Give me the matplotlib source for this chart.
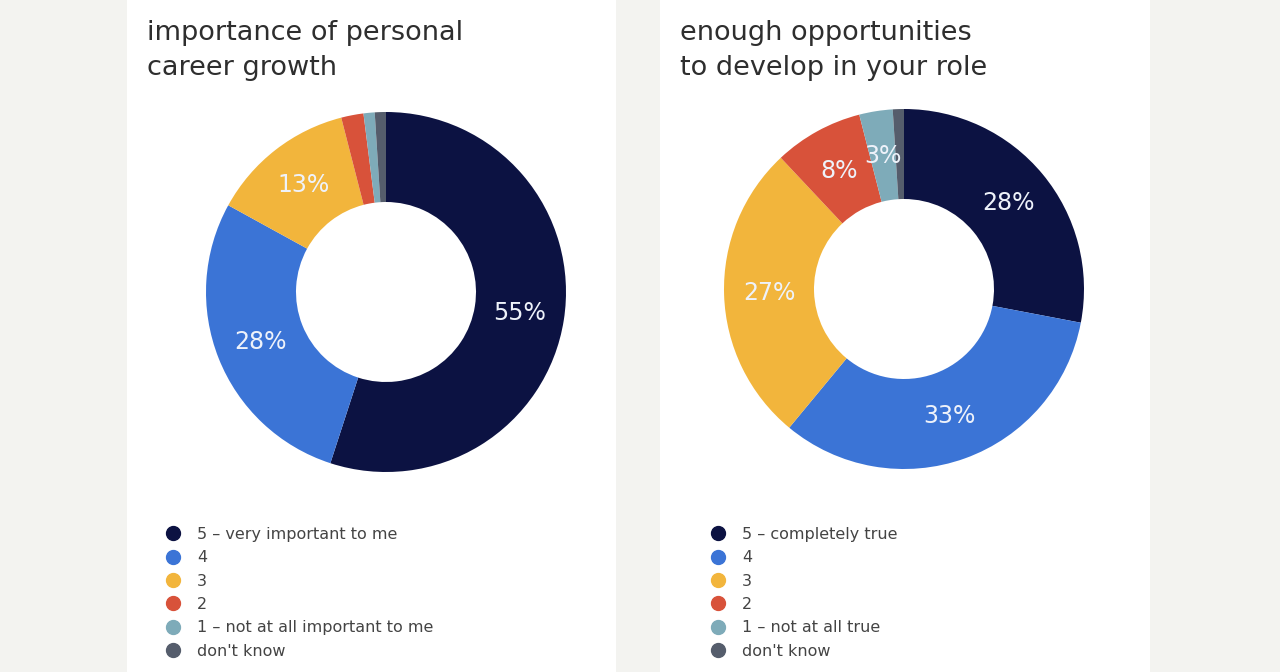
import matplotlib.pyplot as plt
from matplotlib.lines import Line2D
from matplotlib.patches import Rectangle

# data
labels_left = ['5 \u2013 very important to me', '4', '3', '2', '1 \u2013 not at all important to me', "don't know"]
values_left = [55, 28, 13, 2, 1, 1]
labels_right = ['5 \u2013 completely true', '4', '3', '2', '1 \u2013 not at all true', "don't know"]
values_right = [28, 33, 27, 8, 3, 1]
titles = ['importance of personal\ncareer growth', 'enough opportunities\nto develop in your role']
colors = ['#0c1242', '#3b74d6', '#f2b53c', '#d8523a', '#7eabb9', '#555d6c']

W, H = 1280, 672
fig = plt.figure(figsize=(W / 100, H / 100), dpi=100)
fig.patch.set_facecolor('#f3f3f0')

# white panels
for x0, x1 in [(127, 616), (660, 1150)]:
    fig.patches.append(Rectangle((x0 / W, 0), (x1 - x0) / W, 1, transform=fig.transFigure,
                                 facecolor='white', edgecolor='none', zorder=-5))

panels = [
    (values_left, labels_left, titles[0], (386, 292), 147, 179),
    (values_right, labels_right, titles[1], (904, 289), 680, 724),
]

for vals, labs, title, (cx, cy), tx, lx in panels:
    r = 180
    ax = fig.add_axes([(cx - r) / W, (H - cy - r) / H, 2 * r / W, 2 * r / H])
    ax.set_zorder(2)
    wedges, texts, autotexts = ax.pie(
        vals, colors=colors, startangle=90, counterclock=False, radius=1,
        wedgeprops=dict(width=0.5, edgecolor='none'),
        autopct=lambda p: f'{p:.0f}%' if p >= 2.5 else '', pctdistance=0.75,
        textprops=dict(color='#eef2fa', fontsize=17))
    ax.set_xlim(-1, 1)
    ax.set_ylim(-1, 1)
    ax.axis('off')

    fig.text(tx / W, 1 - 20 / H, title, ha='left', va='top', fontsize=19.5,
             color='#2e2e2e', linespacing=1.45)

    handles = [Line2D([0], [0], marker='o', linestyle='', markersize=10,
                      markerfacecolor=c, markeredgecolor=c) for c in colors]
    fig.legend(handles, labs, loc='upper left', bbox_to_anchor=((lx - 14) / W, 1 - 527 / H),
               frameon=False, fontsize=11.5, labelcolor='#444444', handletextpad=1.0,
               labelspacing=0.52, handlelength=1.0, borderaxespad=0, borderpad=0)

fig.savefig('out.png', dpi=100, facecolor=fig.get_facecolor())
